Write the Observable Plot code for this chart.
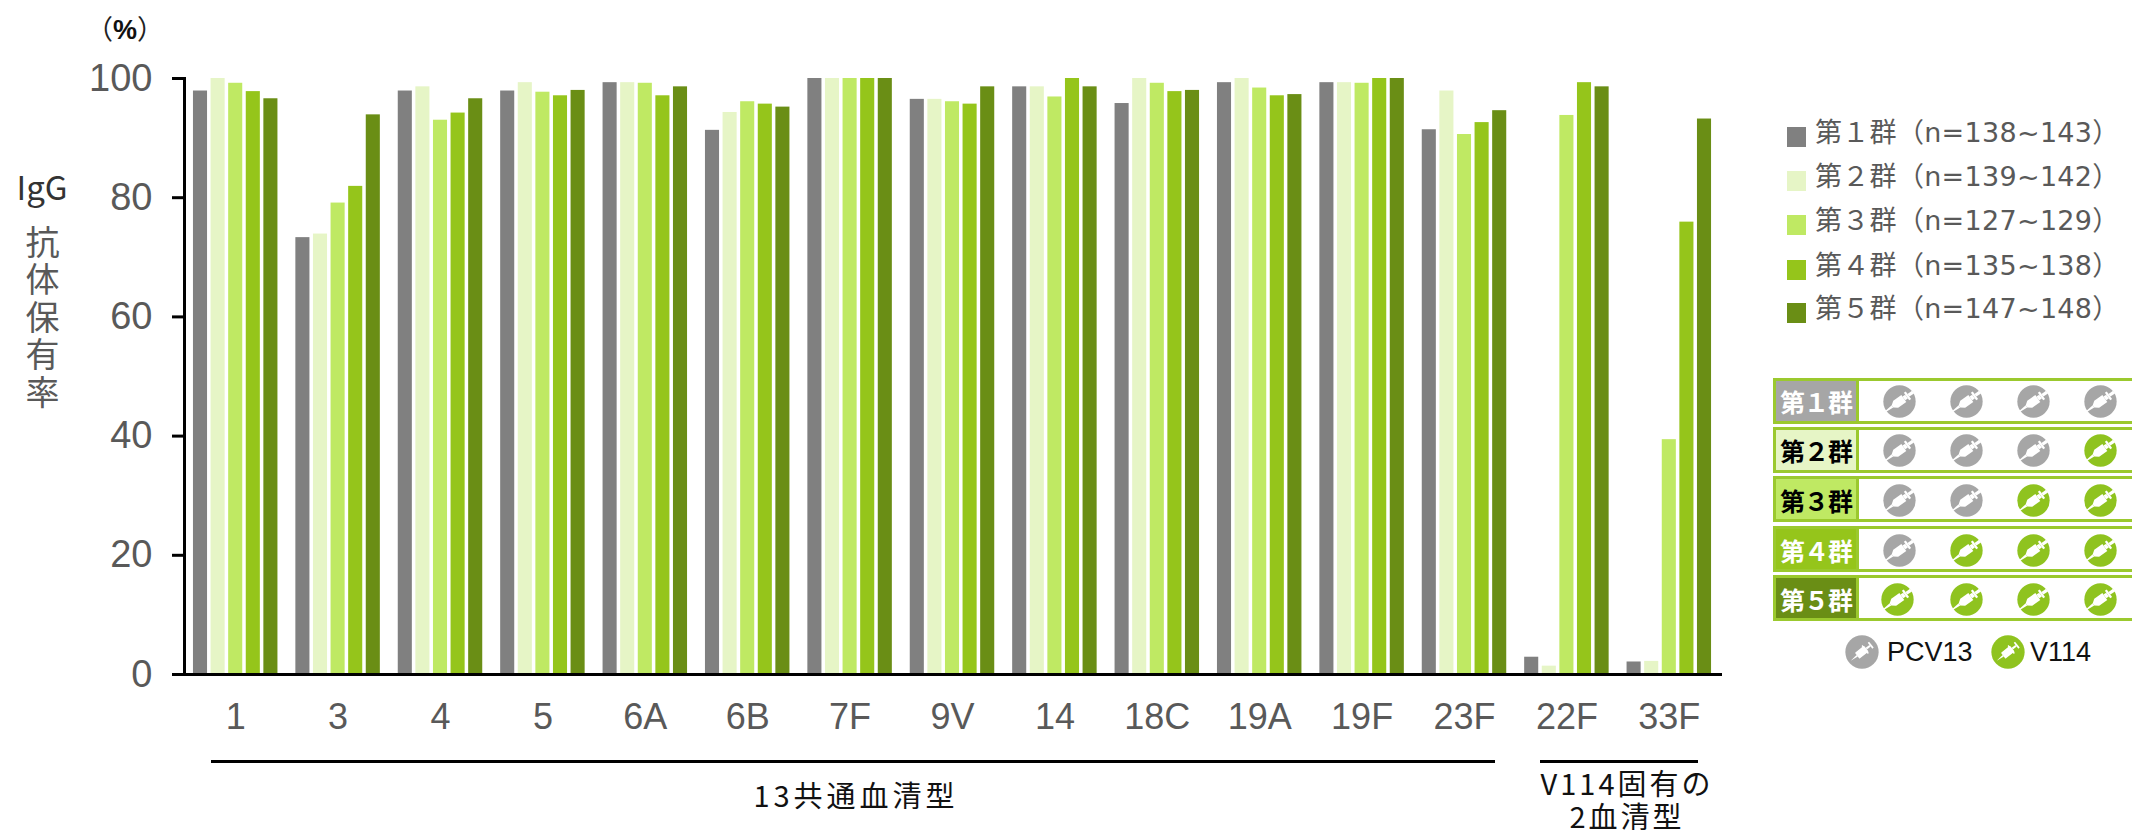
<!DOCTYPE html>
<html lang="ja">
<head>
<meta charset="utf-8">
<script src="https://cdn.jsdelivr.net/npm/d3@7"></script>
<script src="https://cdn.jsdelivr.net/npm/@observablehq/plot@0.6"></script>
<style>
  html, body { margin: 0; padding: 0; background: #fff; width: 2132px; height: 835px; overflow: hidden; }
  #stage { position: relative; width: 2132px; height: 835px; overflow: hidden; font-family: "Noto Sans CJK JP", sans-serif; }
  #stage svg { display: block; }
  .abs { position: absolute; white-space: nowrap; line-height: 1; }
  .latin { font-family: "Liberation Sans", sans-serif; }
  .wide { font-family: "DejaVu Sans", "Noto Sans CJK JP", sans-serif; }
  .icon { position: absolute; }
</style>
</head>
<body>
<div id="stage"></div>
<script>
// IgG antibody retention rate (%) by pneumococcal serotype and study group
const serotypes = ["1","3","4","5","6A","6B","7F","9V","14","18C","19A","19F","23F","22F","33F"];
const groups = ["第１群","第２群","第３群","第４群","第５群"];
const groupColors = ["#808080","#e6f5c6","#bfe963","#95c51b","#6a8e15"];
const groupRanges = ["n=138~143","n=139~142","n=127~129","n=135~138","n=147~148"];

const group1 = [97.9,73.3,97.9,97.9,99.3,91.3,100,96.5,98.6,95.8,99.3,99.3,91.4,2.9,2.1];
const group2 = [100,73.9,98.6,99.3,99.3,94.3,100,96.5,98.6,100,100,99.3,97.9,1.4,2.2];
const group3 = [99.2,79.1,93.0,97.7,99.2,96.1,100,96.1,96.9,99.2,98.4,99.2,90.6,93.8,39.4];
const group4 = [97.8,81.9,94.2,97.1,97.1,95.7,100,95.7,100,97.8,97.1,100,92.6,99.3,75.9];
const group5 = [96.6,93.9,96.6,98.0,98.6,95.2,100,98.6,98.6,98.0,97.3,100,94.6,98.6,93.2];
const seriesValues = [group1, group2, group3, group4, group5];

// Vaccine given at each of the four doses: 0 = PCV13, 1 = V114
const doseSchedule = [[0,0,0,0],[0,0,0,1],[0,0,1,1],[0,1,1,1],[1,1,1,1]];
const vaccineColors = ["#a6a6a6","#8fc31f"];
const vaccineNames = ["PCV13","V114"];

const rows = serotypes.flatMap((serotype, i) =>
  groups.map((group, g) => ({serotype, group, value: seriesValues[g][i]}))
);

const ink = "#595959";

const chart = Plot.plot({
  width: 2132,
  height: 835,
  marginLeft: 184,
  marginRight: 412,
  marginTop: 78,
  marginBottom: 161,
  style: {fontFamily: "'Liberation Sans', sans-serif", background: "transparent", overflow: "visible"},
  fx: {domain: serotypes, paddingInner: 0, paddingOuter: 0, round: false, label: null},
  x: {domain: groups, paddingInner: 0.2, paddingOuter: 0.509, round: false, axis: null},
  y: {domain: [0, 100], label: null},
  color: {domain: groups, range: groupColors},
  marks: [
    Plot.barY(rows, {fx: "serotype", x: "group", y: "value", fill: "group"}),
    Plot.axisFx({anchor: "bottom", tickSize: 0, tickPadding: 29, fontSize: 36, label: null, color: ink}),
    Plot.axisY({ticks: [0,20,40,60,80,100], tickSize: 12, tickPadding: 20, fontSize: 38, label: null, color: ink, stroke: "#000", strokeWidth: 3}),
    Plot.frame({anchor: "left", facet: "super", stroke: "#000", strokeWidth: 3}),
    Plot.frame({anchor: "bottom", facet: "super", stroke: "#000", strokeWidth: 3})
  ]
});

const stage = document.getElementById("stage");
stage.appendChild(chart);
chart.style.position = "absolute";
chart.style.left = "0";
chart.style.top = "0";

function put(text, opts) {
  const el = document.createElement("div");
  el.className = "abs " + (opts.cls || "");
  el.textContent = text;
  const s = el.style;
  s.left = opts.x + "px";
  s.top = opts.y + "px";
  s.fontSize = opts.size + "px";
  s.color = opts.color || ink;
  if (opts.weight) s.fontWeight = opts.weight;
  if (opts.center) s.transform = "translate(-50%,-50%)";
  if (opts.spacing) s.letterSpacing = opts.spacing + "px";
  stage.appendChild(el);
  return el;
}
function box(x, y, w, h, fill, border) {
  const el = document.createElement("div");
  el.className = "abs";
  Object.assign(el.style, {left: x + "px", top: y + "px", width: w + "px", height: h + "px", background: fill, boxSizing: "border-box"});
  if (border) el.style.border = border;
  stage.appendChild(el);
  return el;
}

// Vertical-axis caption
const unit = put("", {x: 125, y: 29, size: 27, color: "#222", center: true});
unit.innerHTML = '（<b class="latin" style="color:#111">%</b>）';
put("IgG", {x: 42, y: 186, size: 33, color: "#333", center: true});
const axisTitle = put("抗体保有率", {x: 25, y: 225, size: 34, spacing: 3.5});
axisTitle.style.writingMode = "vertical-rl";

// Serotype brackets under the axis
box(211, 760, 1284, 3, "#000");
box(1540, 760, 158, 3, "#000");
put("13共通血清型", {x: 856, y: 794, size: 29, color: "#111", center: true, spacing: 4});
const specificLabel = put("V114固有の\n2血清型", {x: 1627, y: 799, size: 29, color: "#111", center: true, spacing: 3});
specificLabel.style.whiteSpace = "pre";
specificLabel.style.textAlign = "center";
specificLabel.style.lineHeight = "33px";

// Group legend
const legendTops = [127, 171, 215, 260, 303];
groups.forEach((g, i) => {
  box(1787, legendTops[i], 19, 20, groupColors[i]);
  put(`${g}（${groupRanges[i]}）`, {x: 1815, y: legendTops[i] + 5, size: 27, cls: "wide", spacing: 0.3}).style.transform = "translateY(-50%)";
});

// Syringe glyph inside a filled circle
function syringe(cx, cy, d, color, small) {
  const ns = "http://www.w3.org/2000/svg";
  const svg = document.createElementNS(ns, "svg");
  svg.setAttribute("class", "icon");
  svg.setAttribute("viewBox", "-50 -50 100 100");
  svg.setAttribute("width", d);
  svg.setAttribute("height", d);
  svg.style.left = (cx - d / 2) + "px";
  svg.style.top = (cy - d / 2) + "px";
  const parts = small
    ? `<circle r="49" fill="${color}"/>
       <g transform="rotate(-38)" fill="#fff">
         <path d="M-42,0 L-18,-3 L-18,3 Z"/>
         <rect x="-18" y="-11" width="34" height="22" rx="2"/>
         <rect x="16" y="-3" width="14" height="6"/>
         <rect x="30" y="-11" width="5" height="22"/>
         <rect x="10" y="-15" width="4" height="30"/>
       </g>`
    : `<circle r="49" fill="${color}"/>
       <g transform="rotate(-35)" fill="#fff">
         <path d="M-52,-1 L-26,-4 L-26,4 L-52,2 Z"/>
         <path d="M-26,-4 L-14,-13 L16,-13 L16,13 L-14,13 L-26,4 Z"/>
         <rect x="16" y="-7" width="10" height="14"/>
         <rect x="26" y="-14" width="7" height="28"/>
         <rect x="33" y="-5" width="17" height="10"/>
       </g>`;
  svg.innerHTML = parts;
  stage.appendChild(svg);
}

// Dosing schedule table
const rowTops = [378, 427, 476, 526, 575];
const rowCenters = [401, 450, 500, 550, 599];
const doseX = [1899, 1966, 2033, 2100];
const labelInk = ["#fff", "#000", "#000", "#fff", "#fff"];
const labelFill = ["#a6a6a6", groupColors[1], groupColors[2], groupColors[3], groupColors[4]];
const tableGreen = "#9bc92e";
groups.forEach((g, i) => {
  box(1773, rowTops[i], 380, 46, "#fff", `3px solid ${tableGreen}`);
  box(1773, rowTops[i], 86, 46, labelFill[i], `3px solid ${tableGreen}`);
  put(g, {x: 1816, y: rowCenters[i], size: 25, color: labelInk[i], weight: 700, center: true, spacing: -1});
  doseSchedule[i].forEach((v, d) => {
    syringe(doseX[d] - (i === 4 && d === 0 ? 2 : 0), rowCenters[i], 33, vaccineColors[v], false);
  });
});

// Vaccine key
syringe(1862, 652, 34, vaccineColors[0], true);
put(vaccineNames[0], {x: 1887, y: 652, size: 27, color: "#111", cls: "latin"}).style.transform = "translateY(-50%)";
syringe(2008, 652, 34, vaccineColors[1], true);
put(vaccineNames[1], {x: 2030, y: 652, size: 27, color: "#111", cls: "latin"}).style.transform = "translateY(-50%)";
</script>
</body>
</html>
